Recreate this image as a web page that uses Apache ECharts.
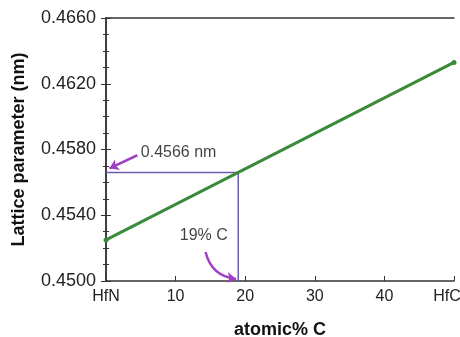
<!DOCTYPE html>
<html>
<head>
<meta charset="utf-8">
<script src="https://cdn.jsdelivr.net/npm/echarts@6/dist/echarts.min.js"></script>
<style>
  html, body { margin: 0; padding: 0; background: #fff; }
  #chart { width: 460px; height: 337px; }
</style>
</head>
<body>
<div id="chart"></div>
<script>
// data
const compX = [0, 50];              // HfN -> HfC (atomic% C)
const latticeY = [0.4525, 0.4633];  // lattice parameter (nm)
const markX = 19;
const markY = 0.4566;
const xTickNames = { 0: 'HfN', 50: 'HfC' };
const yTicks = [0.4500, 0.4540, 0.4580, 0.4620, 0.4660];

const chart = echarts.init(document.getElementById('chart'));
const font = 'Liberation Sans, Arial, sans-serif';
const purple = '#6a5db0';
const magenta = '#a13fc4';

const option = {
  animation: false,
  grid: { left: 106, right: 6, top: 18, bottom: 56, outerBoundsMode: 'none', containLabel: false },
  xAxis: [{
    type: 'value', min: 0, max: 50, interval: 10,
    name: 'atomic% C', nameLocation: 'middle', nameGap: 40,
    nameTextStyle: { fontFamily: font, fontSize: 18, fontWeight: 'bold', color: '#111' },
    axisLine: { lineStyle: { color: '#333', width: 1.5 } },
    axisTick: { inside: true, length: 5, lineStyle: { color: '#333' } },
    axisLabel: { fontFamily: font, fontSize: 16, color: '#222', margin: 8,
      formatter: v => v === 50 ? '{e|' + xTickNames[v] + '}' :
        (xTickNames[v] !== undefined ? xTickNames[v] : String(v)),
      rich: { e: { fontFamily: font, fontSize: 16, color: '#222', padding: [0, 14, 0, 0] } } },
    splitLine: { show: false }
  }, {
    type: 'value', min: 0, max: 50, position: 'top',
    axisLine: { show: true, lineStyle: { color: '#333', width: 1.5 } },
    axisTick: { show: false }, axisLabel: { show: false }, splitLine: { show: false }
  }],
  yAxis: [{
    type: 'value', min: yTicks[0], max: yTicks[yTicks.length - 1], interval: 0.004,
    name: 'Lattice parameter (nm)', nameLocation: 'middle', nameGap: 78,
    nameTextStyle: { fontFamily: font, fontSize: 18, fontWeight: 'bold', color: '#111' },
    axisLine: { show: true, lineStyle: { color: '#333', width: 1.5 } },
    axisTick: { inside: true, length: 5, lineStyle: { color: '#333' } },
    minorTick: { show: true, splitNumber: 4, length: 3, lineStyle: { color: '#333' } },
    axisLabel: { fontFamily: font, fontSize: 18, color: '#222', margin: 10,
      formatter: v => v.toFixed(4) },
    splitLine: { show: false }
  }, {
    type: 'value', min: yTicks[0], max: yTicks[yTicks.length - 1], interval: 0.004,
    position: 'right',
    axisLine: { show: true, lineStyle: { color: '#333', width: 1.5 } },
    axisTick: { inside: true, length: 5, lineStyle: { color: '#333' } },
    minorTick: { show: true, splitNumber: 4, length: 3, lineStyle: { color: '#333' } },
    axisLabel: { show: false }, splitLine: { show: false }
  }],
  series: [
    {
      type: 'line', name: 'guide',
      data: [[0, markY], [markX, markY], [markX, yTicks[0]]],
      symbol: 'none', lineStyle: { color: purple, width: 1.5 }, z: 2
    },
    {
      type: 'line', name: 'lattice',
      data: compX.map((x, i) => [x, latticeY[i]]),
      symbol: 'circle', symbolSize: 5,
      itemStyle: { color: '#3a8a3a' },
      lineStyle: { color: '#3a8a3a', width: 3 }, z: 3
    },
    {
      type: 'lines', coordinateSystem: 'cartesian2d',
      symbol: ['none', 'arrow'], symbolSize: 9,
      lineStyle: { color: magenta, width: 2.5, opacity: 1 },
      data: [
        { coords: [[4.5, 0.45765], [0.5, 0.45685]], lineStyle: { curveness: 0 } },
        { coords: [[14.3, 0.45176], [18.7, 0.45012]], lineStyle: { curveness: -0.35 } }
      ],
      z: 4
    },
    {
      type: 'scatter', symbolSize: 0,
      data: [
        { value: [5.0, 0.4578], label: { formatter: '0.4566 nm' } },
        { value: [10.6, 0.45275], label: { formatter: '19% C' } }
      ],
      label: { show: true, position: 'right', distance: 0, fontFamily: font, fontSize: 16, color: '#111' },
      z: 5
    }
  ]
};
chart.setOption(option);
</script>
</body>
</html>
